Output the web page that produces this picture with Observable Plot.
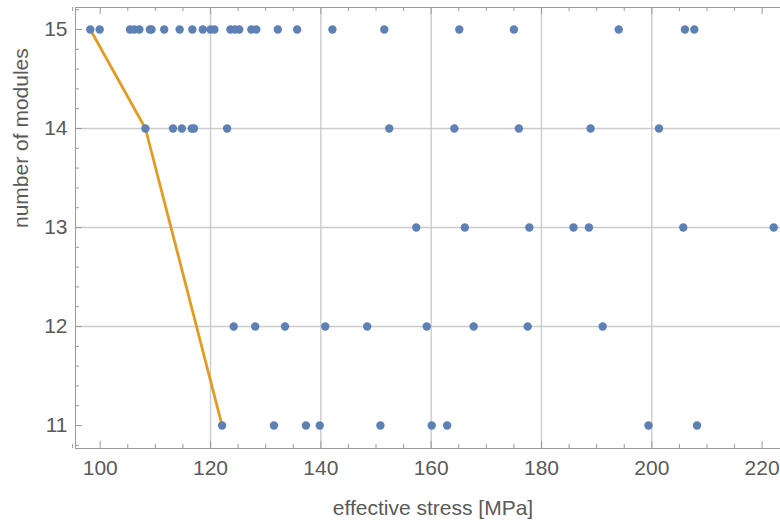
<!DOCTYPE html>
<html>
<head>
<meta charset="utf-8">
<script src="https://cdn.jsdelivr.net/npm/d3@7"></script>
<script src="https://cdn.jsdelivr.net/npm/@observablehq/plot@0.6"></script>
<style>
  html, body { margin: 0; padding: 0; background: white; }
</style>
</head>
<body>
<div id="chart"></div>
<script>
// Effective stress [MPa] for each design, grouped by number of modules
const modules = [15, 14, 13, 12, 11];
const stress15 = [98.2, 99.9, 105.4, 106.2, 107.1, 109.0, 109.3, 111.6, 114.4, 116.7, 118.6, 120.0, 120.7, 123.6, 124.4, 125.2, 127.4, 128.3, 132.2, 135.7, 142.1, 151.5, 165.1, 175.0, 194.0, 206.0, 207.7];
const stress14 = [108.2, 113.2, 114.8, 116.6, 117.0, 123.0, 152.4, 164.2, 175.9, 188.9, 201.3];
const stress13 = [157.3, 166.1, 177.8, 185.8, 188.6, 205.7, 222.1];
const stress12 = [124.2, 128.1, 133.5, 140.8, 148.4, 159.2, 167.7, 177.5, 191.1];
const stress11 = [122.1, 131.5, 137.3, 139.8, 150.8, 160.1, 162.9, 199.4, 208.2];

// Pareto frontier (minimum stress line)
const frontierStress = [98.2, 108.2, 122.1];
const frontierModules = [15, 14, 11];

// Axis ticks / grid
const xMajor = [100, 120, 140, 160, 180, 200, 220];
const xMinor = d3.range(95, 225, 5).filter(v => v % 20 !== 0);
const yMajor = [11, 12, 13, 14, 15];
const yMinor = d3.range(10.8, 15.21, 0.2).map(v => Math.round(v * 10) / 10).filter(v => Math.abs(v - Math.round(v)) > 0.01);
const xGrid = [120, 140, 160, 180, 200];
const yGrid = [12, 13, 14];

const xLabel = "effective stress [MPa]";
const yLabel = "number of modules";

const groups = [stress15, stress14, stress13, stress12, stress11];
const points = groups.flatMap((arr, i) => arr.map(s => ({stress: s, modules: modules[i]})));
const frontier = frontierStress.map((s, i) => ({stress: s, modules: frontierModules[i]}));

const W = 780, H = 524;
const mL = 75, mR = 0, mT = 7, mB = 76;
const pw = W - mL - mR, ph = H - mT - mB;
const frameColor = "#9a9a9a";
const textColor = "#5a5a5a";
const fs = 21;

const chart = Plot.plot({
  width: W,
  height: H,
  marginLeft: mL,
  marginRight: mR,
  marginTop: mT,
  marginBottom: mB,
  style: {fontFamily: "'Liberation Sans', Arial, sans-serif", background: "white", overflow: "visible"},
  x: {domain: [95.52, 223.33]},
  y: {domain: [10.768, 15.222]},
  marks: [
    Plot.ruleX(xGrid, {stroke: "#cccccc", strokeWidth: 1.4}),
    Plot.ruleY(yGrid, {stroke: "#cccccc", strokeWidth: 1.4}),
    Plot.frame({anchor: "left", stroke: frameColor}),
    Plot.frame({anchor: "bottom", stroke: frameColor}),
    Plot.frame({anchor: "top", stroke: frameColor}),
    // inward ticks: bottom
    Plot.ruleX(xMajor, {stroke: frameColor, insetTop: ph - 7}),
    Plot.ruleX(xMinor, {stroke: frameColor, insetTop: ph - 4}),
    // top
    Plot.ruleX(xMajor, {stroke: frameColor, insetBottom: ph - 7}),
    Plot.ruleX(xMinor, {stroke: frameColor, insetBottom: ph - 4}),
    // left
    Plot.ruleY(yMajor, {stroke: frameColor, insetRight: pw - 7}),
    Plot.ruleY(yMinor, {stroke: frameColor, insetRight: pw - 4}),
    Plot.axisX(xMajor, {tickSize: 0, tickPadding: 12, fontSize: fs, fill: textColor, color: textColor, label: null, tickFormat: "d"}),
    Plot.axisY(yMajor, {tickSize: 0, tickPadding: 8, fontSize: fs, fill: textColor, color: textColor, label: null, tickFormat: "d"}),
    Plot.line(frontier, {x: "stress", y: "modules", stroke: "#E19C24", strokeWidth: 2.8}),
    Plot.dot(points, {x: "stress", y: "modules", r: 4.2, fill: "#5E81B5", stroke: "none"}),
    Plot.text([xLabel], {frameAnchor: "bottom", dy: 66, dx: 5, fontSize: fs, fill: textColor}),
    Plot.text([yLabel], {frameAnchor: "left", rotate: -90, dx: -54, fontSize: fs, fill: textColor})
  ]
});
document.getElementById("chart").appendChild(chart);
</script>
</body>
</html>
